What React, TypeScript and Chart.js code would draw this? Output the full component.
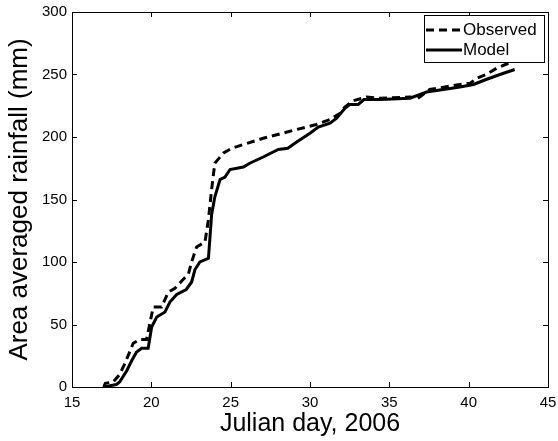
import { useEffect, useRef } from "react";
import { Chart, registerables } from "chart.js";

Chart.register(...registerables);

const xTicks = [15, 20, 25, 30, 35, 40, 45];
const yTicks = [0, 50, 100, 150, 200, 250, 300];
const seriesNames = ["Observed", "Model"];
const xTitle = "Julian day, 2006";
const yTitle = "Area averaged rainfall (mm)";

const obsDays = [17.0, 17.1, 17.6, 18.0, 18.34, 18.86, 19.28, 19.7, 19.91, 20.12, 20.65, 21.07, 21.49, 22.0, 22.33, 22.54, 22.85, 23.38, 23.6, 23.8, 24.0, 24.53, 25.06, 27.05, 29.16, 30.4, 31.26, 31.9, 32.2, 32.73, 33.57, 34.4, 36.3, 36.8, 37.55, 39.45, 40.1, 40.5, 41.1, 41.76, 42.5, 42.9];
const obsRain = [0, 3, 4, 10, 19, 35, 38, 38, 51, 64, 64, 76, 79, 86, 90, 100, 112, 116, 134, 158, 179, 187, 191, 199, 206, 210, 214, 219, 224, 229, 232, 231, 232, 231, 238, 242, 243, 247, 250, 255, 259, 261];

const modelDays = [17.0, 17.4, 17.8, 18.0, 18.45, 18.76, 19.07, 19.39, 19.8, 20.02, 20.34, 20.86, 21.17, 21.6, 22.2, 22.54, 22.75, 23.06, 23.6, 23.8, 24.0, 24.33, 24.64, 24.96, 25.8, 26.2, 27.05, 28.0, 28.6, 29.16, 30.0, 30.52, 31.26, 31.68, 32.2, 32.5, 33.04, 33.4, 34.4, 36.3, 37.35, 39.45, 40.3, 41.1, 41.97, 42.9];
const modelRain = [0, 1, 2, 4, 13, 21, 28, 31, 31, 48, 56, 60, 68, 74, 78, 84, 94, 100, 103, 138, 152, 166, 168, 174, 176, 179, 184, 190, 191, 196, 203, 208, 211, 215, 223, 226, 226, 230, 230, 231, 236, 240, 242, 246, 250, 254];

const FONT = "'Liberation Sans', Arial, Helvetica, sans-serif";
const DASH = [8, 5];

const zeroPad = (s: any) => {
  s.paddingLeft = 0;
  s.paddingRight = 0;
  s.paddingTop = 0;
  s.paddingBottom = 0;
};

export default function App() {
  const ref = useRef<HTMLCanvasElement>(null);

  useEffect(() => {
    document.body.style.margin = "0";
    const canvas = ref.current;
    if (!canvas) return;

    const framePlugin = {
      id: "frameAndLegend",
      afterDraw(chart: any) {
        const { ctx, chartArea: a, scales } = chart;
        ctx.save();
        ctx.strokeStyle = "#000";
        ctx.lineWidth = 1;
        ctx.setLineDash([]);
        ctx.strokeRect(a.left + 0.5, a.top + 0.5, a.right - a.left, a.bottom - a.top);
        const tl = 5;
        ctx.beginPath();
        xTicks.forEach((v) => {
          const px = Math.round(scales.x.getPixelForValue(v)) + 0.5;
          ctx.moveTo(px, a.bottom);
          ctx.lineTo(px, a.bottom - tl);
          ctx.moveTo(px, a.top);
          ctx.lineTo(px, a.top + tl);
        });
        yTicks.forEach((v) => {
          const py = Math.round(scales.y.getPixelForValue(v)) + 0.5;
          ctx.moveTo(a.left, py);
          ctx.lineTo(a.left + tl, py);
          ctx.moveTo(a.right, py);
          ctx.lineTo(a.right - tl, py);
        });
        ctx.stroke();

        // legend
        const bw = 120;
        const bh = 47;
        const bx = a.right - 4 - bw;
        const by = a.top + 3;
        ctx.fillStyle = "#fff";
        ctx.fillRect(bx, by, bw, bh);
        ctx.strokeRect(bx + 0.5, by + 0.5, bw, bh);
        ctx.lineWidth = 3;
        chart.data.datasets.forEach((ds: any, i: number) => {
          const ly = by + 15 + i * 20;
          ctx.setLineDash(ds.borderDash || []);
          ctx.beginPath();
          ctx.moveTo(bx + 2, ly);
          ctx.lineTo(bx + 38, ly);
          ctx.stroke();
          ctx.setLineDash([]);
          ctx.fillStyle = "#000";
          ctx.font = `17px ${FONT}`;
          ctx.textBaseline = "middle";
          ctx.textAlign = "left";
          ctx.fillText(ds.label, bx + 39, ly);
        });
        ctx.restore();
      },
    };

    const chart = new Chart(canvas, {
      type: "line",
      data: {
        datasets: [
          {
            label: seriesNames[0],
            data: obsDays.map((d, i) => ({ x: d, y: obsRain[i] })),
            borderColor: "#000",
            borderWidth: 3,
            borderDash: DASH,
            pointRadius: 0,
            tension: 0,
            fill: false,
          },
          {
            label: seriesNames[1],
            data: modelDays.map((d, i) => ({ x: d, y: modelRain[i] })),
            borderColor: "#000",
            borderWidth: 3,
            pointRadius: 0,
            tension: 0,
            fill: false,
          },
        ],
      },
      options: {
        responsive: false,
        animation: false,
        devicePixelRatio: 1,
        layout: { padding: { left: 0, right: 10, top: 12, bottom: 0 } },
        plugins: {
          legend: { display: false },
          tooltip: { enabled: false },
        },
        scales: {
          x: {
            type: "linear",
            min: 15,
            max: 45,
            grid: { display: false, drawTicks: false },
            border: { display: false },
            afterBuildTicks: (s: any) => {
              s.ticks = xTicks.map((v) => ({ value: v }));
            },
            afterFit: (s: any) => {
              s.height = 54;
              zeroPad(s);
            },
            ticks: {
              autoSkip: false,
              maxRotation: 0,
              padding: 7,
              color: "#000",
              font: { family: FONT, size: 15 },
            },
            title: {
              display: true,
              text: xTitle,
              color: "#000",
              font: { family: FONT, size: 25 },
              padding: { top: 0, bottom: 2 },
            },
          },
          y: {
            type: "linear",
            min: 0,
            max: 300,
            grid: { display: false, drawTicks: false },
            border: { display: false },
            afterBuildTicks: (s: any) => {
              s.ticks = yTicks.map((v) => ({ value: v }));
            },
            afterFit: (s: any) => {
              s.width = 72;
              zeroPad(s);
            },
            ticks: {
              padding: 5,
              color: "#000",
              font: { family: FONT, size: 15 },
            },
            title: {
              display: true,
              text: yTitle,
              color: "#000",
              font: { family: FONT, size: 26 },
              padding: { top: 4, bottom: 0 },
            },
          },
        },
      },
      plugins: [framePlugin],
    } as any);

    return () => chart.destroy();
  }, []);

  return (
    <div style={{ position: "absolute", left: 0, top: 0, width: 558, height: 441, background: "#fff" }}>
      <canvas ref={ref} width={558} height={441} />
    </div>
  );
}
